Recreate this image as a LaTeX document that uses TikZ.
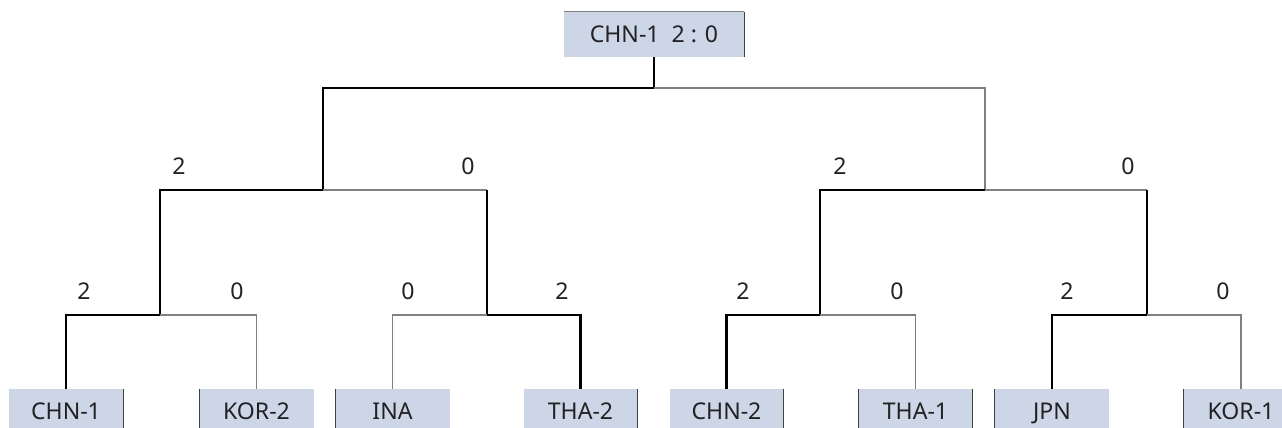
\documentclass[tikz,border=0pt]{standalone}
\usepackage{fontspec}
\setmainfont{Noto Sans}
\definecolor{cellfill}{HTML}{CCD6E7}
\definecolor{losecol}{HTML}{808080}
\definecolor{edgecol}{HTML}{404040}
\definecolor{txtcol}{HTML}{222222}
\begin{document}
\begin{tikzpicture}[x=0.75pt,y=-0.75pt,
  font=\fontsize{17.3}{20}\selectfont,
  team/.style={fill=cellfill, draw=none, inner sep=0pt, minimum width=85.5pt,
    minimum height=33.75pt, text=txtcol, text height=12.4pt, text depth=0pt},
  champ/.style={team, minimum width=135pt},
  lbl/.style={inner sep=0pt, text=txtcol, text height=12.4pt, text depth=0pt},
  win/.style={draw=black, line width=1.9pt},
  lose/.style={draw=losecol, line width=1.1pt},
  stem/.style={draw=black, line width=0.8pt},
  cellborder/.style={draw=edgecol, line width=0.8pt},
  celltop/.style={draw=losecol, line width=0.9pt}]
\useasboundingbox (0,0) rectangle (1282,428);

% boxes
\node[champ] (top) at (654,34.5) {CHN-1\ \ 2 : 0};
\node[team] (chn1) at (66,411.5) {CHN-1};
\node[team] (kor2) at (256.5,411.5) {KOR-2};
\node[team] (ina) at (392.5,411.5) {INA};
\node[team] (tha2) at (580.5,411.5) {THA-2};
\node[team] (chn2) at (726.5,411.5) {CHN-2};
\node[team] (tha1) at (915.5,411.5) {THA-1};
\node[team] (jpn) at (1052,411.5) {JPN};
\node[team] (kor1) at (1241,411.5) {KOR-1};

% cell borders
\draw[celltop] (top.north west) -- (top.north east);
\draw[cellborder] (top.north east) -- (top.south east);
\draw[cellborder] (chn1.north east) -- (chn1.south east);
\draw[cellborder] (kor2.north west) -- (kor2.south west);
\draw[cellborder] (ina.north west) -- (ina.south west);
\draw[cellborder] (tha2.north east) -- (tha2.south east);
\draw[cellborder] (chn2.north east) -- (chn2.south east);
\draw[cellborder] (tha1.north west) -- (tha1.south west);
\draw[cellborder] (tha1.north east) -- (tha1.south east);
\draw[cellborder] (jpn.north west) -- (jpn.south west);
\draw[cellborder] (kor1.north west) -- (kor1.south west);

% junctions
\coordinate (f) at (654,88);
\coordinate (sL) at (323,190);
\coordinate (sR) at (985,190);
\coordinate (q1) at (160,315);
\coordinate (q2) at (487,315);
\coordinate (q3) at (820,315);
\coordinate (q4) at (1147,315);

% final
\draw[win] (top.south) -- (f) -| (sL);
\draw[lose] (f) -| (sR);
% semifinals
\draw[win] (sL) -| (q1);
\draw[lose] (sL) -- (sL -| q2);
\draw[stem] (sL -| q2) -- (q2);
\draw[win] (sR) -| (q3);
\draw[lose] (sR) -- (sR -| q4);
\draw[stem] (sR -| q4) -- (q4);
% quarterfinals
\draw[win] (q1) -| (chn1.north);
\draw[lose] (q1) -| (kor2.north);
\draw[lose] (q2) -| (ina.north);
\draw[win] (q2) -| (tha2.north);
\draw[win] (q3) -| (chn2.north);
\draw[lose] (q3) -| (tha1.north);
\draw[win] (q4) -| (jpn.north);
\draw[lose] (q4) -| (kor1.north);

% scores
\node[lbl] (s1) at (179,166) {2};
\node[lbl] (s2) at (468,166) {0};
\node[lbl] (s3) at (840,166) {2};
\node[lbl] (s4) at (1128,166) {0};
\node[lbl] (r1) at (84,291) {2};
\node[lbl] (r2) at (237,291) {0};
\node[lbl] (r3) at (408,291) {0};
\node[lbl] (r4) at (562,291) {2};
\node[lbl] (r5) at (743,291) {2};
\node[lbl] (r6) at (897,291) {0};
\node[lbl] (r7) at (1067,291) {2};
\node[lbl] (r8) at (1223,291) {0};
\end{tikzpicture}
\end{document}
